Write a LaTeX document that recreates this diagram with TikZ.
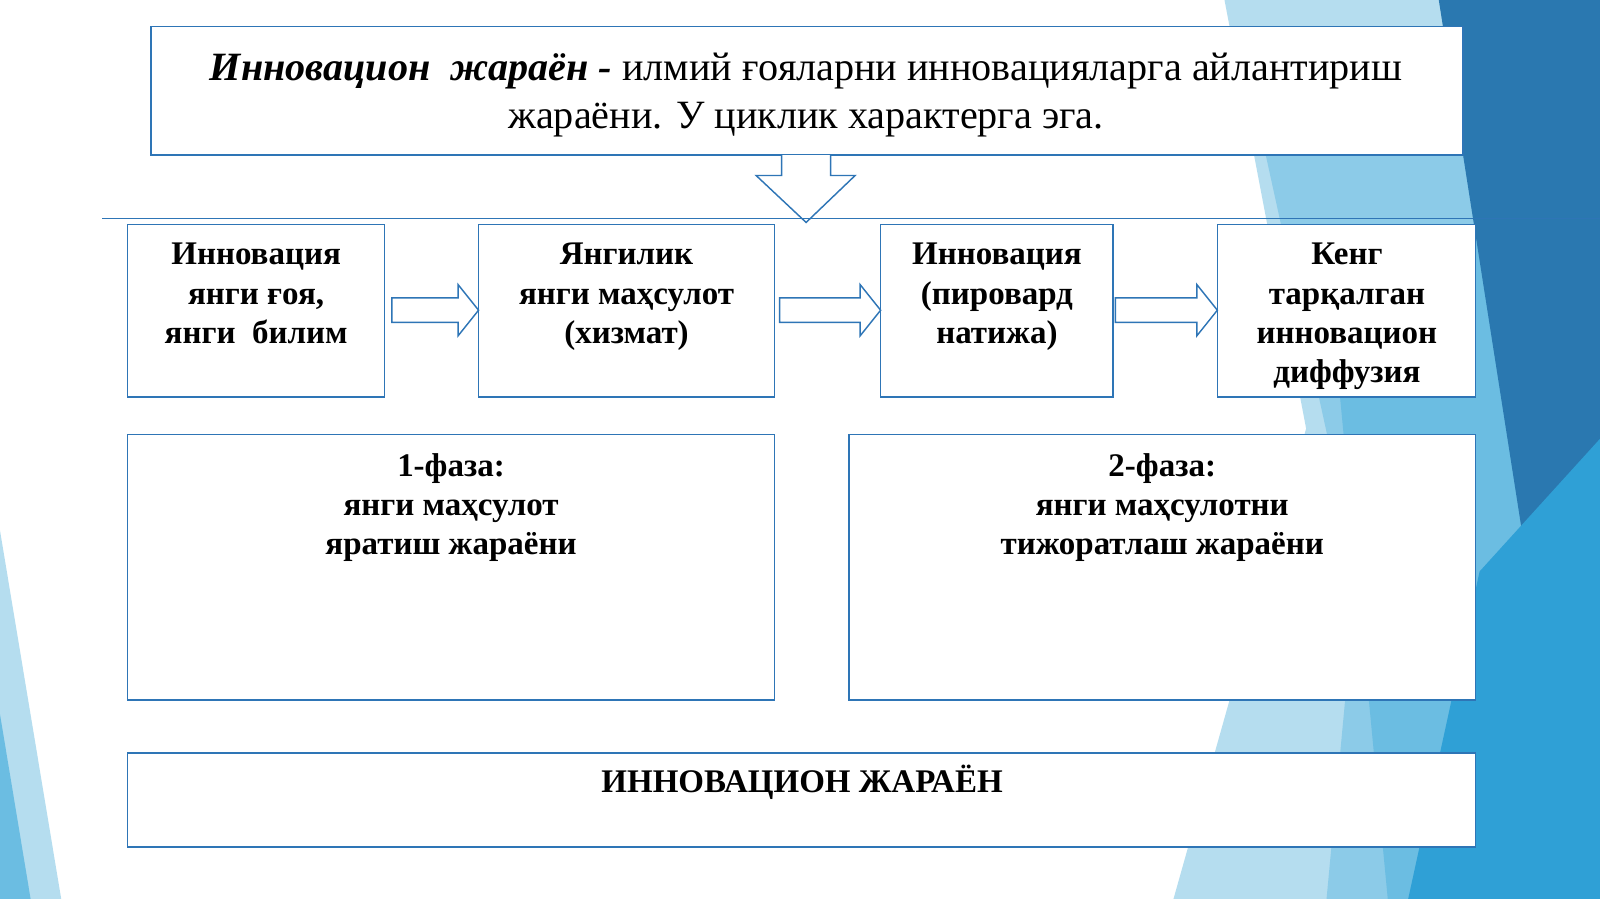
\documentclass[tikz,border=0pt]{standalone}
\usepackage{fontspec}
\setmainfont{Liberation Serif}
\begin{document}
\begin{tikzpicture}[x=0.05cm,y=-0.05cm,
 box/.style={draw=bl,line width=2.2pt,fill=white},
 txt/.style={anchor=north,align=center,font=\fontsize{46}{55}\selectfont\bfseries,inner sep=0pt},
 barrow/.style={draw=bl,line width=2pt,fill=white}]
\definecolor{bl}{HTML}{2E75B6}
\definecolor{c1}{HTML}{B5DDEF}
\definecolor{c2}{HTML}{6BBDE2}
\definecolor{c3}{HTML}{2A78B0}
\definecolor{c4}{HTML}{2FA0D6}
\definecolor{c5}{HTML}{8CCBE8}
\useasboundingbox (0,0) rectangle (1568,881);
\fill[white] (0,0) rectangle (1568,881);
% background
\fill[c1] (1200,0)--(1568,0)--(1568,881)--(1150,881)--(1280,420)--cycle;
\fill[c5] (1240,150)--(1568,120)--(1568,881)--(1300,881)--(1330,560)--cycle;
\fill[c2] (1300,250)--(1568,200)--(1568,881)--(1360,881)--cycle;
\fill[c3] (1410,0)--(1568,0)--(1568,520)--(1500,575)--cycle;
\fill[c4] (1450,560)--(1568,430)--(1568,881)--(1380,881)--cycle;
\fill[c1] (0,520)--(60,881)--(0,881)--cycle;
\fill[c2] (0,700)--(30,881)--(0,881)--cycle;
% top box
\node[box,minimum width=64.3cm,minimum height=6.3cm,anchor=north west,inner sep=0pt] (top) at (147,25) {};
\node[anchor=north,align=center,font=\fontsize{56}{67}\selectfont,inner sep=0pt] (toptxt) at (790,52)
 {\textbf{\textit{Инновацион\ \ жараён -}} илмий ғояларни инновацияларга айлантириш\\ жараёни. У циклик характерга эга.};
\draw[barrow] (766,152)--(766,172)--(741,172)--(790,218)--(838,172)--(814,172)--(814,152);
\coordinate (l1) at (100,214); \coordinate (l2) at (1568,214);
\draw[bl,line width=1.5pt] (l1)--(l2);
% row boxes
\draw[box] (125,220) rectangle (377,389);
\draw[box] (469,220) rectangle (759,389);
\draw[box] (863,220) rectangle (1091,389);
\draw[box] (1193,220) rectangle (1446,389);
\node[txt] (t1) at (251,238) {Инновация\\янги ғоя,\\янги\ \ билим};
\node[txt] (t2) at (614,238) {Янгилик\\янги маҳсулот\\(хизмат)};
\node[txt] (t3) at (977,238) {Инновация\\(пировард\\натижа)};
\node[txt] (t4) at (1320,238) {Кенг\\тарқалган\\инновацион\\диффузия};
\foreach \a/\b in {384/469,764/863,1093/1193}{
 \pgfmathsetmacro\h{\b-20}
 \draw[barrow] (\a,292)--(\h,292)--(\h,279)--(\b,304)--(\h,329)--(\h,316)--(\a,316)--cycle;}
% phases
\draw[box] (125,426) rectangle (759,686);
\draw[box] (832,426) rectangle (1446,686);
\node[txt] (p1) at (442,444) {1-фаза:\\янги маҳсулот\\яратиш жараёни};
\node[txt] (p2) at (1139,444) {2-фаза:\\янги маҳсулотни\\тижоратлаш жараёни};
\draw[box] (125,738) rectangle (1446,830);
\node[txt] (bt) at (786,750) {ИННОВАЦИОН ЖАРАЁН};
\end{tikzpicture}
\end{document}
